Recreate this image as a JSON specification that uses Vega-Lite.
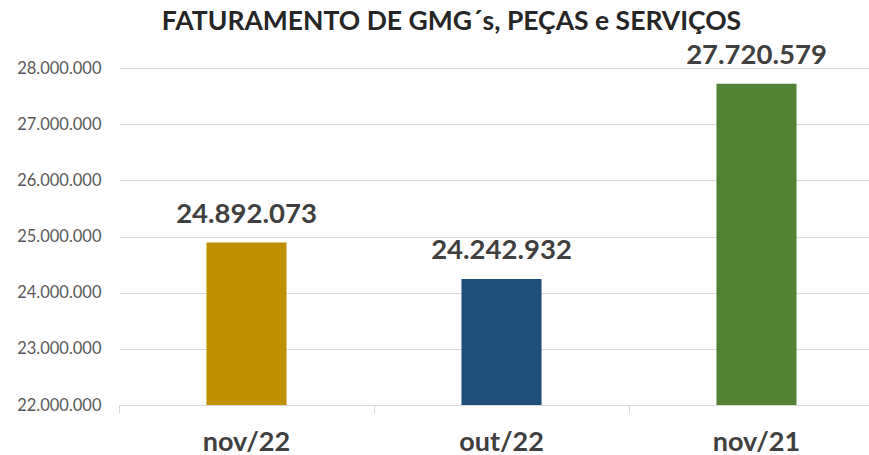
{
  "$schema": "https://vega.github.io/schema/vega-lite/v6.json",
  "width": 765,
  "height": 337,
  "autosize": "none",
  "padding": {"left": 119, "top": 68, "right": 0, "bottom": 50},
  "background": "white",
  "config": {
    "locale": {"number": {"decimal": ",", "thousands": ".", "grouping": [3], "currency": ["R$", ""]}},
    "view": {"stroke": null},
    "font": "Lato"
  },
  "title": {
    "text": "FATURAMENTO DE GMG´s, PEÇAS e SERVIÇOS",
    "anchor": "middle",
    "frame": "group",
    "dx": -50,
    "offset": 6,
    "font": "Lato",
    "fontSize": 26.5,
    "fontWeight": "bold",
    "color": "#262626"
  },
  "data": {
    "values": [
      {"periodo": "nov/22", "valor": 24892073},
      {"periodo": "out/22", "valor": 24242932},
      {"periodo": "nov/21", "valor": 27720579}
    ]
  },
  "encoding": {
    "x": {
      "field": "periodo",
      "type": "nominal",
      "sort": null,
      "scale": {"paddingInner": 0, "paddingOuter": 0},
      "axis": {
        "title": null,
        "labelAngle": 0,
        "labelFont": "Lato",
        "labelFontSize": 27,
        "labelFontWeight": "bold",
        "labelColor": "#404040",
        "labelPadding": 16,
        "domainColor": "#d9d9d9",
        "domainWidth": 1,
        "tickColor": "#d9d9d9",
        "tickSize": 8,
        "bandPosition": 0,
        "grid": false
      }
    },
    "y": {
      "field": "valor",
      "type": "quantitative",
      "scale": {"domain": [22000000, 28000000], "nice": false, "zero": false},
      "axis": {
        "title": null,
        "values": [22000000, 23000000, 24000000, 25000000, 26000000, 27000000, 28000000],
        "format": ",d",
        "labelFont": "Lato",
        "labelFontSize": 16.5,
        "labelColor": "#595959",
        "labelPadding": 18,
        "ticks": false,
        "domain": false,
        "grid": true,
        "gridColor": "#d9d9d9",
        "gridWidth": 1
      }
    }
  },
  "layer": [
    {
      "mark": {"type": "bar", "width": {"band": 0.314}, "clip": true},
      "encoding": {
        "color": {
          "field": "periodo",
          "type": "nominal",
          "sort": null,
          "scale": {"domain": ["nov/22", "out/22", "nov/21"], "range": ["#BF9000", "#1F4E79", "#548235"]},
          "legend": null
        }
      }
    },
    {
      "mark": {"type": "text", "baseline": "bottom", "dy": -14, "font": "Lato", "fontSize": 27.5, "fontWeight": "bold", "color": "#404040"},
      "encoding": {
        "text": {"field": "valor", "type": "quantitative", "format": ",d"}
      }
    }
  ]
}
